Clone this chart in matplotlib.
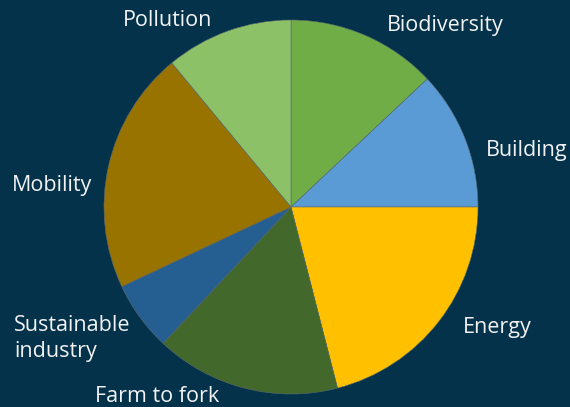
import matplotlib.pyplot as plt

# share of each topic, clockwise from 12 o'clock
topics = ["Biodiversity", "Building", "Energy", "Farm to fork",
          "Sustainable\nindustry", "Mobility", "Pollution"]
shares = [13, 12, 21, 16, 6, 21, 11]
colors = ["#70AD47", "#5B9BD5", "#FFC000", "#43682B",
          "#255E91", "#997300", "#8CC168"]

BG = "#04324A"
# label anchors (data units, radius = 1) and alignment
label_pos = [(0.826, 0.970, "center"), (1.262, 0.302, "center"),
             (1.102, -0.645, "center"), (-0.717, -1.015, "center"),
             (-1.481, -0.704, "left"), (-1.278, 0.114, "center"),
             (-0.658, 0.997, "center")]

fig = plt.figure(figsize=(5.7, 4.07), dpi=100)
fig.patch.set_facecolor(BG)
ax = fig.add_axes([0, 0, 1, 1])
ax.set_facecolor(BG)

wedges, _ = ax.pie(shares, colors=colors, startangle=90, counterclock=False,
                   radius=1, wedgeprops=dict(linewidth=0.4, edgecolor="#5a6a70"))

for name, (x, y, ha) in zip(topics, label_pos):
    ax.text(x, y, name, ha=ha, va="center", multialignment="left",
            color="#F2F2F2", fontsize=15.5, family="Open Sans", linespacing=1.3)

ax.set_aspect("auto")
ax.set_xlim(-291 / 187, (570 - 291) / 187)
ax.set_ylim(-(407 - 207) / 187, 207 / 187)
ax.axis("off")

fig.savefig("out.png", dpi=100, facecolor=BG)
